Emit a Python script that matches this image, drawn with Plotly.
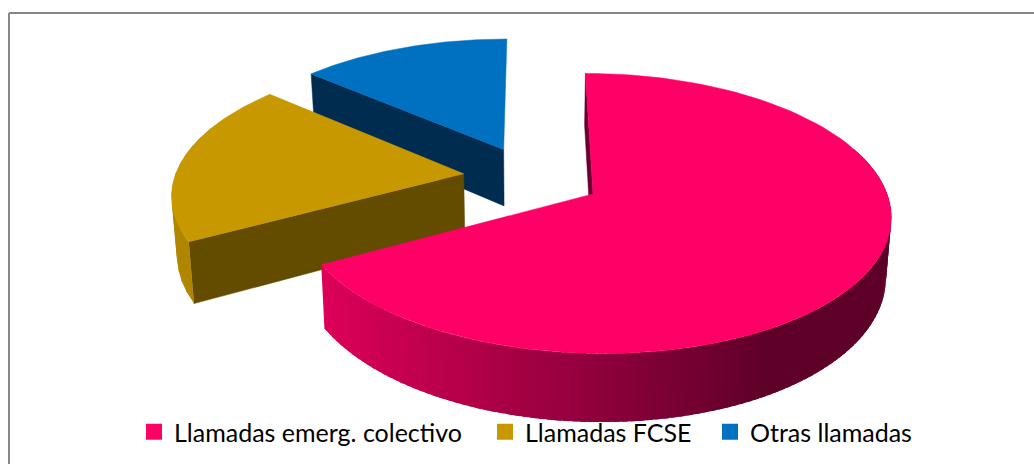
import numpy as np
import plotly.graph_objects as go

# ---- chart data (share of calls) ----
categories = ["Llamadas emerg. colectivo", "Llamadas FCSE", "Otras llamadas"]
values = [67.0, 19.4, 13.6]
top_colors = ["#ff0066", "#c89800", "#0070c0"]
wall_colors = ["#6a0030", "#634b00", "#002c50"]
outer_colors = [None, "#b08600", "#005a9c"]

# ---- projection of the tilted pie on the page (pixels) ----
W, H = 1034, 464
CX, CY, AX, BY = 531.0, 177.1, 289.0, 132.7
PERSP = 0.137
DEPTH = 58.0
SHRINK = 0.015
EXPLODE = [0.245, 0.235, 0.235]


def project(u, v, lowered=False):
    w = 1 + PERSP * v
    sc = 1 - SHRINK if lowered else 1.0
    x = CX + AX * u * sc / w
    y = CY - BY * v / w + (DEPTH / w if lowered else 0)
    return x, y


def rim(theta_deg, off, lowered=False):
    t = np.radians(theta_deg)
    return project(np.sin(t) + off[0], np.cos(t) + off[1], lowered)


def hexmix(c1, c2, f):
    a = [int(c1[i:i + 2], 16) for i in (1, 3, 5)]
    b = [int(c2[i:i + 2], 16) for i in (1, 3, 5)]
    return "#%02x%02x%02x" % tuple(round(p + (q - p) * f) for p, q in zip(a, b))


def pink_side(x):
    if x >= 770:
        return "#5e0028"
    return hexmix("#dc0058", "#5e0028", (max(x, 323) - 323) / (770 - 323))


fig = go.Figure()


def poly(xs, ys, color, stroke=0.0):
    fig.add_trace(go.Scatter(
        x=list(xs), y=list(ys), mode="lines", fill="toself", fillcolor=color,
        line=dict(color=color, width=stroke), hoverinfo="skip", showlegend=False,
    ))


total = sum(values)
edges = np.concatenate([[0], np.cumsum(values)]) / total * 360
slices = []
for i in range(3):
    a0, a1 = edges[i], edges[i + 1]
    mid = np.radians((a0 + a1) / 2)
    off = (EXPLODE[i] * np.sin(mid), EXPLODE[i] * np.cos(mid))
    slices.append((a0, a1, off))


def top_face(i):
    a0, a1, off = slices[i]
    th = np.linspace(a0, a1, 120)
    pts = [rim(t, off) for t in th]
    ap = project(*off)
    poly([ap[0]] + [p[0] for p in pts] + [ap[0]],
         [ap[1]] + [p[1] for p in pts] + [ap[1]], top_colors[i], 0.5)


def radial_wall(i, theta):
    a0, a1, off = slices[i]
    ap, apb = project(*off), project(*off, True)
    e, eb = rim(theta, off), rim(theta, off, True)
    poly([ap[0], e[0], eb[0], apb[0], ap[0]],
         [ap[1], e[1], eb[1], apb[1], ap[1]], wall_colors[i], 0.5)


def outer_band(i, t0, t1, color):
    # one narrow strip of the outer wall; neighbours overlap so no seam shows
    off = slices[i][2]
    th = np.linspace(t0, t1, 3)
    up = [rim(t, off) for t in th]
    lo = [rim(t, off, True) for t in th[::-1]]
    pts = up + lo + [up[0]]
    poly([p[0] for p in pts], [p[1] for p in pts], color)


# back slice first, so the nearer ones cover it
radial_wall(2, slices[2][0])
top_face(2)

radial_wall(1, slices[1][0])
gold_edges = np.linspace(slices[1][0], 290, 13)
for t0, t1 in zip(gold_edges[:-1], gold_edges[1:]):
    outer_band(1, t0, t1 + 1.0, outer_colors[1])
top_face(1)

radial_wall(0, slices[0][0])
band_edges = np.linspace(70, slices[0][1], 121)
for t0, t1 in zip(band_edges[:-1], band_edges[1:]):
    xm = rim((t0 + t1) / 2, slices[0][2])[0]
    outer_band(0, t0, min(t1 + 1.0, slices[0][1]), pink_side(xm))
top_face(0)

# one legend per entry, so that each can sit where the original has it
legend_x = [134, 485, 710]
names = ["legend", "legend2", "legend3"]
layout_legends = {}
for i, cat in enumerate(categories):
    fig.add_trace(go.Scatter(
        x=[None], y=[None], mode="markers", name=cat, legend=names[i],
        marker=dict(symbol="square", size=16, color=top_colors[i]),
    ))
    layout_legends[names[i]] = dict(
        x=legend_x[i] / W, y=1 - 432 / H, xanchor="left", yanchor="middle",
        bgcolor="rgba(0,0,0,0)", borderwidth=0,
        font=dict(family="Lato", size=25, color="#000000"),
    )

fig.update_layout(
    width=W, height=H, margin=dict(l=0, r=0, t=0, b=0),
    paper_bgcolor="white", plot_bgcolor="white",
    xaxis=dict(range=[0, W], visible=False, fixedrange=True),
    yaxis=dict(range=[H, 0], visible=False, fixedrange=True),
    showlegend=True,
    shapes=[
        dict(type="line", xref="paper", yref="paper", x0=9 / W, x1=9 / W, y0=0, y1=1 - 13 / H,
             line=dict(color="#878787", width=2)),
        dict(type="line", xref="paper", yref="paper", x0=9 / W, x1=1, y0=1 - 13 / H, y1=1 - 13 / H,
             line=dict(color="#878787", width=2)),
    ],
    **layout_legends,
)
fig.write_html("out.html", config={"displayModeBar": False},
               post_script="document.body.style.margin='0';document.body.style.overflow='hidden';")
